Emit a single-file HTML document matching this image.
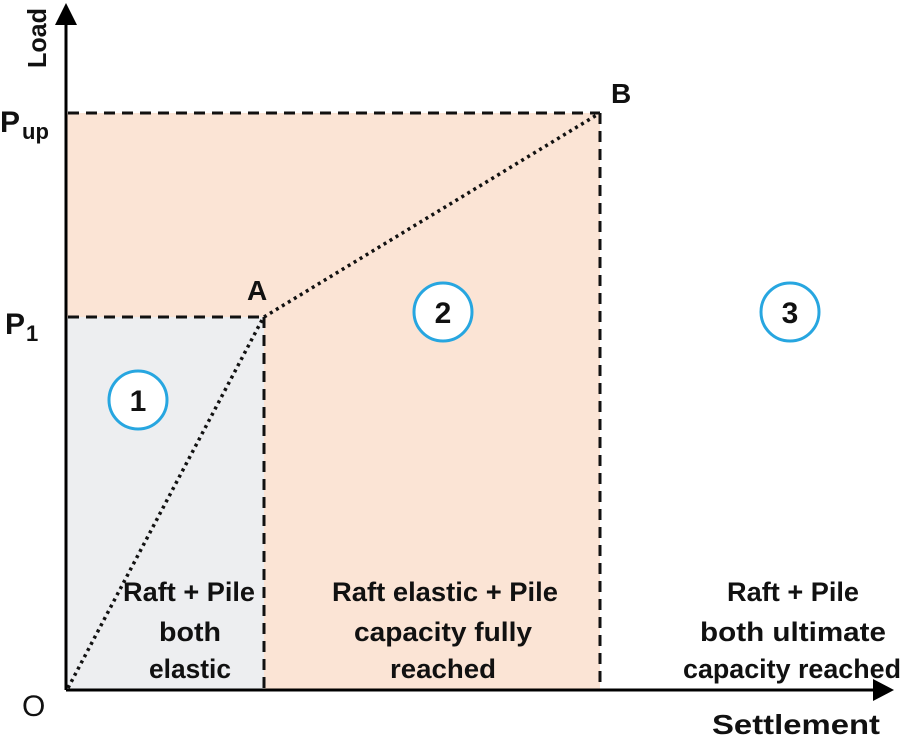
<!DOCTYPE html>
<html><head><meta charset="utf-8"><style>
html,body{margin:0;padding:0;background:#fff;}
svg{display:block;}
text{font-family:"Liberation Sans",sans-serif;font-weight:bold;fill:#111;}
</style></head><body>
<svg width="905" height="737" viewBox="0 0 905 737" xmlns="http://www.w3.org/2000/svg">
<rect x="66" y="113" width="534" height="576" fill="#fbe4d5"/>
<rect x="66" y="317" width="198" height="372" fill="#edeef0"/>
<g stroke="#111" stroke-width="3" stroke-dasharray="11,7" fill="none">
<line x1="68" y1="113" x2="600" y2="113"/>
<line x1="68" y1="317" x2="264" y2="317"/>
<line x1="264" y1="317" x2="264" y2="689"/>
<line x1="600" y1="113" x2="600" y2="689"/>
</g>
<g stroke="#111" stroke-width="3.5" stroke-dasharray="3,4" fill="none">
<line x1="68" y1="688" x2="262" y2="320"/>
<line x1="264" y1="317" x2="600" y2="113"/>
</g>
<line x1="66" y1="690" x2="66" y2="22" stroke="#000" stroke-width="3"/>
<polygon points="66,3 55,25 77,25" fill="#000"/>
<line x1="66" y1="690" x2="876" y2="690" stroke="#000" stroke-width="3"/>
<polygon points="894,690 873,679 873,701" fill="#000"/>
<g fill="#fff" stroke="#27a6e0" stroke-width="3">
<circle cx="138" cy="400" r="29"/>
<circle cx="443" cy="312" r="29"/>
<circle cx="790" cy="312" r="29"/>
</g>
<g font-size="30" text-anchor="middle">
<text x="138" y="411">1</text>
<text x="443" y="323">2</text>
<text x="790" y="323">3</text>
</g>
<text x="0" y="0" font-size="26" transform="translate(46,68) rotate(-90)" textLength="60" lengthAdjust="spacingAndGlyphs">Load</text>
<text x="0" y="132" font-size="30">P</text><text x="22" y="139" font-size="22">up</text>
<text x="5" y="334" font-size="30">P</text><text x="26" y="341" font-size="22">1</text>
<text x="247" y="300" font-size="28">A</text>
<text x="611" y="103" font-size="28">B</text>
<text x="22" y="716" font-size="30" style="font-weight:normal">O</text>
<text x="712" y="734" font-size="28" textLength="168" lengthAdjust="spacingAndGlyphs">Settlement</text>
<g font-size="27" text-anchor="middle">
<text x="189" y="601" textLength="132" lengthAdjust="spacingAndGlyphs">Raft + Pile</text>
<text x="190" y="641" textLength="62" lengthAdjust="spacingAndGlyphs">both</text>
<text x="190" y="678" textLength="82" lengthAdjust="spacingAndGlyphs">elastic</text>
<text x="445" y="601" textLength="226" lengthAdjust="spacingAndGlyphs">Raft elastic + Pile</text>
<text x="443" y="641" textLength="178" lengthAdjust="spacingAndGlyphs">capacity fully</text>
<text x="443" y="678" textLength="106" lengthAdjust="spacingAndGlyphs">reached</text>
<text x="793" y="601" textLength="132" lengthAdjust="spacingAndGlyphs">Raft + Pile</text>
<text x="793" y="641" textLength="186" lengthAdjust="spacingAndGlyphs">both ultimate</text>
<text x="792" y="678" textLength="218" lengthAdjust="spacingAndGlyphs">capacity reached</text>
</g>
</svg>
</body></html>
